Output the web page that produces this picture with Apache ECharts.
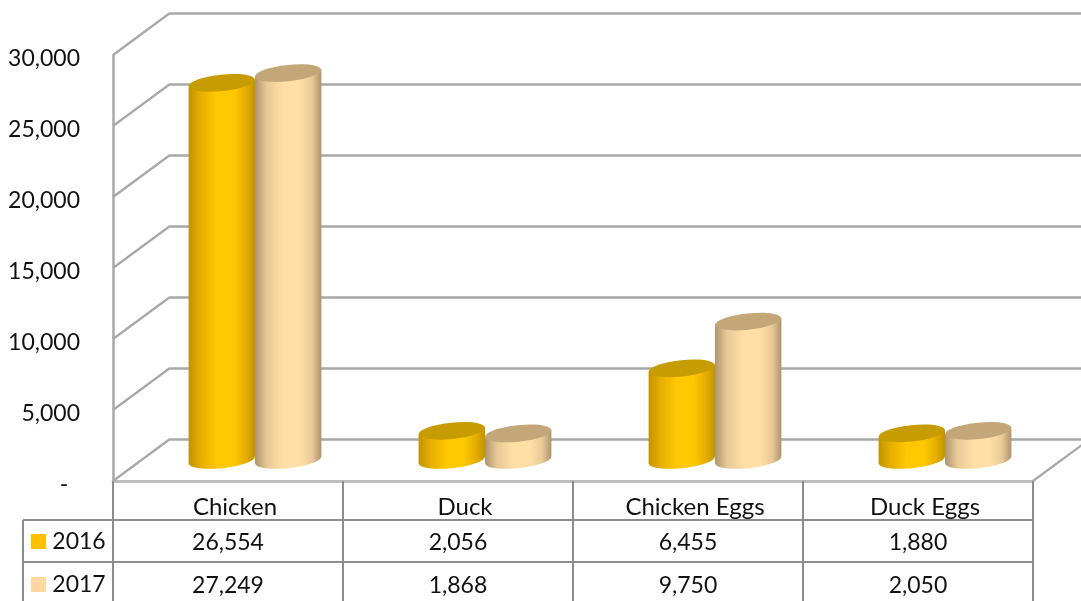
<!DOCTYPE html>
<html><head><meta charset="utf-8">
<style>html,body{margin:0;padding:0;background:#fff}#c{width:1081px;height:601px}</style>
<script src="https://cdn.jsdelivr.net/npm/echarts@6/dist/echarts.min.js"></script>
</head><body><div id="c"></div>
<script>
const categories = ['Chicken','Duck','Chicken Eggs','Duck Eggs'];
const years = ['2016','2017'];
const values2016 = [26554,2056,6455,1880];
const values2017 = [27249,1868,9750,2050];
const axisTicks = [0,5000,10000,15000,20000,25000,30000];

const FONT='Lato', GRID='#A8A8A8', TBL='#8C8C8C', TXT='#111';
const chart = echarts.init(document.getElementById('c'),null,{renderer:'canvas'});
const fmt = v => v.toLocaleString('en-US');
const DX=57, DY=-42, RX=33.2, RY=8.2, TILT=6*Math.PI/180;

function cyl(side, edge, soft, mid, topColor){
  const grad = {type:'linear',x:0,y:0,x2:1,y2:0,colorStops:[
    {offset:0,color:edge},{offset:.18,color:soft},{offset:.42,color:mid},{offset:.68,color:mid},{offset:.86,color:soft},{offset:1,color:edge}]};
  return function(params, api){
    const i=api.value(0), v=api.value(1);
    const t=api.coord([i,v]), b=api.coord([i,0]);
    const cx=t[0]+side*RX, dy=RX*Math.sin(TILT);
    const ell=(y,fill)=>({type:'ellipse',shape:{cx:cx,cy:y,rx:RX,ry:RY},rotation:TILT,originX:cx,originY:y,style:{fill:fill}});
    return {type:'group',children:[
      ell(b[1],grad),
      {type:'polygon',shape:{points:[[cx-RX,t[1]+dy],[cx-RX,b[1]+dy],[cx+RX,b[1]-dy],[cx+RX,t[1]-dy]]},style:{fill:grad}},
      ell(t[1],topColor)
    ]};
  };
}
function diag(params, api){
  const p=api.coord([0,api.value(0)]), x=p[0]-api.size([1,0])[0]/2;
  return {type:'line',shape:{x1:x,y1:p[1],x2:x+DX,y2:p[1]+DY},style:{stroke:GRID,lineWidth:2.2}};
}
function floorRight(params, api){
  const p=api.coord([3,0]), x=p[0]+api.size([1,0])[0]/2;
  return {type:'line',shape:{x1:x,y1:p[1],x2:x+DX,y2:p[1]+DY},style:{stroke:GRID,lineWidth:2.2}};
}

const graphic=[];
const txt=(x,y,s)=>graphic.push({type:'text',x:x,y:y,z:20,style:{text:s,font:'23px '+FONT,fill:TXT,align:'center',verticalAlign:'middle'}});
const hline=(y)=>graphic.push({type:'line',z:10,shape:{x1:23,y1:y,x2:1033,y2:y},style:{stroke:TBL,lineWidth:2}});
hline(520);hline(562);
graphic.push({type:'line',z:10,shape:{x1:23,y1:520,x2:23,y2:601},style:{stroke:TBL,lineWidth:2}});
[[values2016,'#FFC000',541],[values2017,'#FFD8A0',584]].forEach(function(r,ri){
  graphic.push({type:'rect',z:20,shape:{x:31,y:r[2]-7,width:15,height:15},style:{fill:r[1]}});
  txt(79,r[2]+1,years[ri]);
  r[0].forEach((v,i)=>txt(228+230*i,r[2]+2,fmt(v)));
});

chart.setOption({
  animation:false,
  backgroundColor:'#fff',
  graphic:graphic,
  grid:[
    {left:113,width:920,top:55,height:426},
    {left:170,right:0,top:13,height:426},
    {left:140,width:920,top:34,height:426},
    {left:113,width:920,top:59,height:426}
  ],
  xAxis:[
    {gridIndex:0,type:'category',data:categories,boundaryGap:true,
     axisLine:{show:true,lineStyle:{color:'#BDBDBD',width:3}},
     axisTick:{show:true,length:120,lineStyle:{color:TBL,width:2}},
     axisLabel:{color:TXT,fontFamily:FONT,fontSize:24,margin:14,interval:0,padding:[0,0,0,14]}},
    {gridIndex:1,type:'category',data:categories,show:false},
    {gridIndex:2,type:'category',data:categories,show:false},
    {gridIndex:3,type:'category',data:categories,show:false}
  ],
  yAxis:[
    {gridIndex:0,type:'value',min:0,max:30000,interval:5000,
     axisLine:{show:true,lineStyle:{color:GRID,width:2.5}},axisTick:{show:false},splitLine:{show:false},
     axisLabel:{show:false}},
    {gridIndex:1,type:'value',min:0,max:30000,interval:5000,
     axisLine:{show:false},axisTick:{show:false},axisLabel:{show:false},
     splitLine:{show:true,lineStyle:{color:GRID,width:2.5,type:'solid'}}},
    {gridIndex:2,type:'value',min:0,max:30000,interval:5000,show:false,splitLine:{show:false}},
    {gridIndex:3,type:'value',min:0,max:30000,interval:5000,
     axisLine:{show:false},axisTick:{show:false},splitLine:{show:false},
     axisLabel:{color:TXT,fontFamily:FONT,fontSize:23,margin:33,
       formatter:v=>v===0?'-  ':fmt(v)}}
  ],
  series:[
    {type:'custom',name:'walls',xAxisIndex:0,yAxisIndex:0,data:axisTicks.map(v=>[v]),encode:{y:0},renderItem:diag,z:1,silent:true,clip:false},
    {type:'custom',name:'floor',xAxisIndex:0,yAxisIndex:0,data:[[0]],encode:{y:0},renderItem:floorRight,z:1,silent:true,clip:false},
    {type:'custom',name:years[0],xAxisIndex:2,yAxisIndex:2,data:values2016.map((v,i)=>[i,v]),encode:{x:0,y:1},z:5,clip:false,
     renderItem:cyl(-1,'#C09400','#E6AE00','#FFC800','#C79C00')},
    {type:'custom',name:years[1],xAxisIndex:2,yAxisIndex:2,data:values2017.map((v,i)=>[i,v]),encode:{x:0,y:1},z:6,clip:false,
     renderItem:cyl(1,'#AE946C','#E8C998','#FFDFA6','#C4A778')}
  ]
});
</script></body></html>
